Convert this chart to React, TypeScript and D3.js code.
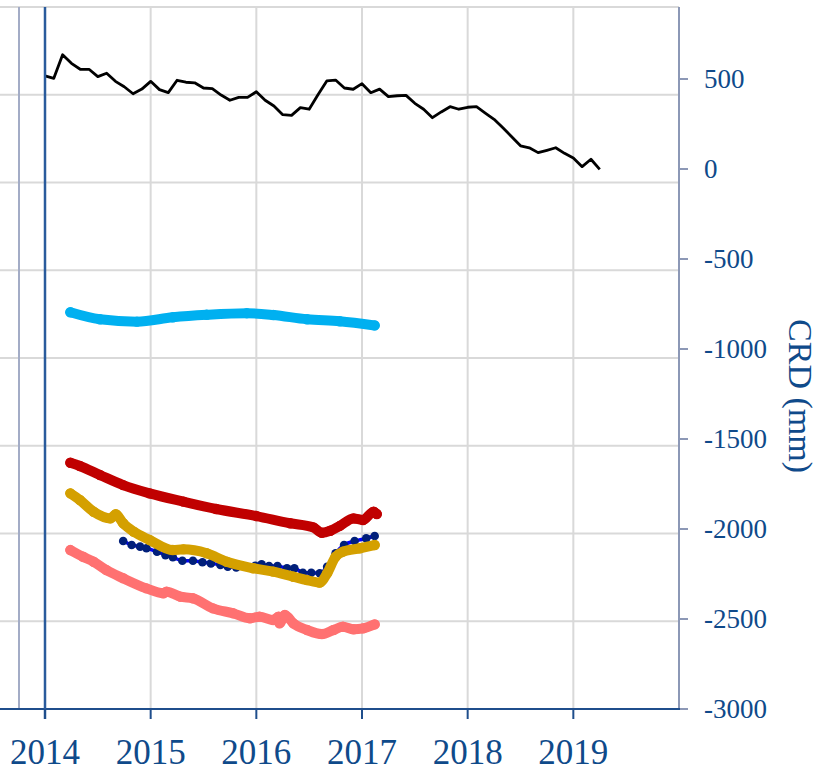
import React from "react";
import * as d3 from "d3";

const xTicks = [2014, 2015, 2016, 2017, 2018, 2019];
const yTicks = [500, 0, -500, -1000, -1500, -2000, -2500, -3000];
const gridLevels = [0, 1, 2, 3, 4, 5, 6, 7, 8];

// Monthly black series starting Jan 2014
const blackValues = [517, 504, 635, 587, 554, 554, 513, 532, 487, 457, 418, 444, 487, 441, 424, 493, 482, 479, 450, 446, 411, 382, 398, 398, 429, 382, 350, 302, 298, 341, 332, 413, 489, 494, 450, 443, 474, 424, 444, 402, 407, 409, 365, 332, 285, 317, 346, 332, 343, 346, 311, 276, 229, 179, 129, 118, 91, 104, 118, 87, 61, 13, 54, -2];

const lightBlue: [number, number][] = [[2014.24, -796], [2014.52, -835], [2014.87, -848], [2015.21, -824], [2015.53, -810], [2015.91, -801], [2016.16, -811], [2016.48, -835], [2016.79, -846], [2017.12, -869]];

const red: [number, number][] = [[2014.24, -1632], [2014.33, -1650], [2014.52, -1700], [2014.74, -1756], [2014.99, -1802], [2015.31, -1848], [2015.62, -1889], [2016.0, -1928], [2016.32, -1968], [2016.54, -1991], [2016.62, -2021], [2016.70, -2010], [2016.79, -1983], [2016.92, -1941], [2017.01, -1950], [2017.11, -1904], [2017.14, -1917]];

const gold: [number, number][] = [[2014.24, -1802], [2014.33, -1839], [2014.46, -1904], [2014.62, -1941], [2014.67, -1918], [2014.74, -1968], [2014.84, -2015], [2014.99, -2061], [2015.21, -2117], [2015.31, -2113], [2015.53, -2135], [2015.72, -2182], [2015.97, -2218], [2016.16, -2237], [2016.35, -2265], [2016.48, -2284], [2016.60, -2298], [2016.67, -2246], [2016.75, -2154], [2016.82, -2126], [2016.98, -2107], [2017.12, -2089]];

const navy: [number, number][] = [[2014.74, -2067], [2014.82, -2089], [2014.90, -2098], [2014.96, -2107], [2015.06, -2126], [2015.14, -2145], [2015.21, -2157], [2015.30, -2176], [2015.40, -2176], [2015.49, -2185], [2015.57, -2191], [2015.66, -2200], [2015.73, -2210], [2015.81, -2213], [2015.90, -2210], [2015.99, -2205], [2016.05, -2196], [2016.12, -2206], [2016.20, -2206], [2016.29, -2218], [2016.36, -2218], [2016.44, -2243], [2016.52, -2243], [2016.60, -2246], [2016.67, -2210], [2016.75, -2135], [2016.83, -2089], [2016.93, -2067], [2017.04, -2052], [2017.12, -2039]];

const salmon: [number, number][] = [[2014.24, -2117], [2014.36, -2154], [2014.46, -2182], [2014.58, -2228], [2014.74, -2274], [2014.96, -2330], [2015.12, -2357], [2015.15, -2348], [2015.28, -2376], [2015.40, -2385], [2015.59, -2441], [2015.78, -2468], [2015.94, -2496], [2016.03, -2487], [2016.16, -2506], [2016.21, -2487], [2016.22, -2524], [2016.27, -2478], [2016.35, -2524], [2016.48, -2561], [2016.62, -2584], [2016.73, -2561], [2016.82, -2543], [2016.92, -2557], [2017.01, -2552], [2017.12, -2530]];

const textColor = "#0f4a8a";
const font = "'Liberation Serif', 'Times New Roman', serif";

export default function App() {
  const width = 838;
  const height = 772;
  const x = d3.scaleLinear().domain([2014, 2020]).range([45, 679]);
  const y = d3.scaleLinear().domain([-3000, 900]).range([709, 7]);
  const yGrid = d3.scaleLinear().domain([0, 8]).range([709, 7]);

  const line = d3.line<[number, number]>().x((d) => x(d[0])).y((d) => y(d[1])).curve(d3.curveMonotoneX);
  const blackData: [number, number][] = blackValues.map((v, i) => [2014 + i / 12, v]);
  const blackLine = d3.line<[number, number]>().x((d) => x(d[0])).y((d) => y(d[1]));

  const thick = (data: [number, number][], color: string, key: string) => (
    <g key={key}>
      <path d={line(data) || ""} fill="none" stroke={color} strokeWidth={10} strokeLinecap="round" strokeLinejoin="round" />
      {data.map((d, i) => (
        <circle key={i} cx={x(d[0])} cy={y(d[1])} r={5.2} fill={color} />
      ))}
    </g>
  );

  return (
    <svg width={width} height={height} style={{ position: "absolute", left: 0, top: 0, background: "#fff" }}>
      {gridLevels.map((g) => (
        <line key={g} x1={0} x2={679} y1={yGrid(g)} y2={yGrid(g)} stroke="#d9d9d9" strokeWidth={2} />
      ))}
      {xTicks.slice(1).map((t) => (
        <line key={t} x1={x(t)} x2={x(t)} y1={7} y2={709} stroke="#d9d9d9" strokeWidth={2} />
      ))}
      <line x1={19} x2={19} y1={7} y2={710} stroke="#a3acc6" strokeWidth={2} />
      <line x1={0} x2={19} y1={709} y2={709} stroke="#1f4e8c" strokeWidth={2} />

      {thick(lightBlue, "#00b0f0", "lb")}
      {thick(red, "#c00000", "red")}
      {thick(salmon, "#ff7171", "sal")}
      <g>
        <path d={line(navy) || ""} fill="none" stroke="#0000ff" strokeWidth={3.5} />
        {navy.map((d, i) => (
          <circle key={i} cx={x(d[0])} cy={y(d[1])} r={4.3} fill="#001f7a" />
        ))}
      </g>
      {thick(gold, "#d4a000", "gold")}
      <path d={blackLine(blackData) || ""} fill="none" stroke="#000" strokeWidth={2.8} strokeLinejoin="round" />

      <line x1={679} x2={679} y1={7} y2={710} stroke="#8c98b6" strokeWidth={2} />
      {yTicks.map((t) => (
        <g key={t}>
          <line x1={679} x2={688} y1={y(t)} y2={y(t)} stroke="#8c98b6" strokeWidth={2} />
          <text x={704} y={y(t)} dy="0.35em" fill={textColor} fontFamily={font} fontSize={27}>
            {t}
          </text>
        </g>
      ))}
      <text transform={`translate(789,396) rotate(90)`} textAnchor="middle" fill={textColor} fontFamily={font} fontSize={34}>
        CRD (mm)
      </text>

      <line x1={19} x2={680} y1={709} y2={709} stroke="#1f4e8c" strokeWidth={2} />
      <line x1={45} x2={45} y1={7} y2={719} stroke="#2a5b9c" strokeWidth={2.5} />
      {xTicks.map((t) => (
        <g key={t}>
          <line x1={x(t)} x2={x(t)} y1={709} y2={719} stroke="#1f4e8c" strokeWidth={2} />
          <text x={x(t)} y={764} textAnchor="middle" fill={textColor} fontFamily={font} fontSize={35}>
            {t}
          </text>
        </g>
      ))}
    </svg>
  );
}
